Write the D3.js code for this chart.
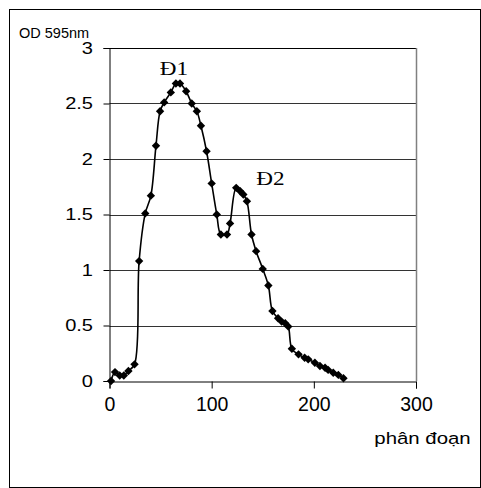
<!DOCTYPE html>
<html>
<head>
<meta charset="utf-8">
<script src="https://cdn.jsdelivr.net/npm/d3@7"></script>
<style>
  body { margin: 0; background: #fff; }
  svg { display: block; }
</style>
</head>
<body>
<svg id="chart" width="481" height="488"></svg>
<script>
// fraction number (phân đoạn) and optical density readings
const fractions = [1.5, 5.4, 10, 14, 18.5, 24.5, 29, 35, 40.5, 45.5, 49.5, 53.5, 60, 65, 69, 75,
  80.5, 85.5, 89.5, 95, 100, 105, 109, 115, 118, 124, 128, 131, 134.5, 139, 143.5, 150,
  155.5, 159.5, 165, 168.5, 172, 175, 178.5, 185, 191, 194.5, 201, 206, 211, 214, 219, 224, 229];
const od = [0.00, 0.08, 0.05, 0.05, 0.09, 0.15, 1.08, 1.51, 1.67, 2.12, 2.43, 2.51, 2.60, 2.68, 2.68, 2.61,
  2.50, 2.43, 2.30, 2.07, 1.78, 1.50, 1.32, 1.32, 1.42, 1.74, 1.71, 1.68, 1.62, 1.32, 1.17, 1.01,
  0.86, 0.63, 0.565, 0.535, 0.52, 0.49, 0.29, 0.24, 0.21, 0.195, 0.165, 0.135, 0.12, 0.10, 0.075, 0.055, 0.025];
const yTicks = [0, 0.5, 1, 1.5, 2, 2.5, 3];
const xTicks = [0, 100, 200, 300];
const peakNames = ["Đ1", "Đ2"];

const svg = d3.select('#chart');

let padLeft = 109.5,
    padRight = 416,
    padTop = 48,
    padBottom = 381,
    sansFont = '"Liberation Sans", Arial, sans-serif',
    serifFont = '"Liberation Serif", "Times New Roman", serif';

const data = fractions.map((f, i) => ({x: f, y: od[i]}));

// outer frame, right and bottom edges sit on the picture border
svg.append('rect')
  .attr('x', 9.5).attr('y', 9.5)
  .attr('width', 471).attr('height', 478)
  .attr('fill', 'none').attr('stroke', '#000').attr('stroke-width', 1);

const xScale = d3.scaleLinear().domain([0, 300]).range([padLeft, padRight]);
const yScale = d3.scaleLinear().domain([0, 3]).range([padBottom, padTop]);

// gridlines
svg.append('g')
  .selectAll('line')
  .data(yTicks.filter(d => d > 0))
  .join('line')
    .attr('x1', padLeft).attr('x2', padRight)
    .attr('y1', d => Math.round(yScale(d)) + 0.5)
    .attr('y2', d => Math.round(yScale(d)) + 0.5)
    .attr('stroke', d => d === 3 ? '#000' : '#333')
    .attr('stroke-width', 1);

// right border of plot area
svg.append('line')
  .attr('x1', padRight + 0.5).attr('x2', padRight + 0.5)
  .attr('y1', padTop).attr('y2', padBottom)
  .attr('stroke', '#808080').attr('stroke-width', 1.5);

const yAxis = d3.axisLeft(yScale)
  .tickValues(yTicks)
  .tickSize(6)
  .tickPadding(8)
  .tickFormat(d3.format('~g'));

const xAxis = d3.axisBottom(xScale)
  .tickValues(xTicks)
  .tickSize(7)
  .tickPadding(9)
  .tickFormat(d3.format('d'));

svg.append('g')
  .attr('transform', 'translate(0,' + (padBottom + 0.5) + ')')
  .style('font-family', sansFont)
  .style('font-size', '19.5px')
  .call(xAxis)
  .call(g => g.selectAll('text').attr('fill', '#000'))
  .call(g => g.selectAll('line, path').attr('stroke', '#000'));

// y labels look horizontally stretched in the original
svg.append('g')
  .attr('transform', 'translate(' + (padLeft) + ',0)')
  .style('font-family', sansFont)
  .style('font-size', '17px')
  .call(yAxis)
  .call(g => g.selectAll('text').attr('fill', '#000').attr('transform', 'scale(1.18,1)'))
  .call(g => g.selectAll('line, path').attr('stroke', '#000'));

// smoothed line
const line = d3.line()
  .x(d => xScale(d.x))
  .y(d => yScale(d.y))
  .curve(d3.curveCatmullRom.alpha(0.5));

svg.append('path')
  .datum(data)
  .attr('fill', 'none')
  .attr('stroke', '#000')
  .attr('stroke-width', 1.6)
  .attr('d', line);

// diamond markers
svg.append('g')
  .selectAll('path')
  .data(data)
  .join('path')
    .attr('transform', d => 'translate(' + xScale(d.x) + ',' + yScale(d.y) + ')')
    .attr('d', 'M0,-4.2L4.2,0L0,4.2L-4.2,0Z')
    .attr('fill', '#000');

// peak labels, placed near the two maxima
svg.append('text')
  .attr('transform', 'translate(' + (xScale(63)) + ',' + (yScale(2.68) - 9) + ') scale(1.22,1)')
  .attr('text-anchor', 'middle')
  .style('font-family', serifFont)
  .style('font-size', '19px')
  .text(peakNames[0]);

svg.append('text')
  .attr('transform', 'translate(' + (xScale(157.5)) + ',' + (yScale(1.74) - 3) + ') scale(1.22,1)')
  .attr('text-anchor', 'middle')
  .style('font-family', serifFont)
  .style('font-size', '19px')
  .text(peakNames[1]);

// axis titles
svg.append('text')
  .attr('x', 19).attr('y', 37.5)
  .style('font-family', sansFont)
  .style('font-size', '14.5px')
  .text('OD 595nm');

svg.append('text')
  .attr('transform', 'translate(422.5,444) scale(1.2,1)')
  .attr('text-anchor', 'middle')
  .style('font-family', sansFont)
  .style('font-size', '17px')
  .text('phân đoạn');
</script>
</body>
</html>
